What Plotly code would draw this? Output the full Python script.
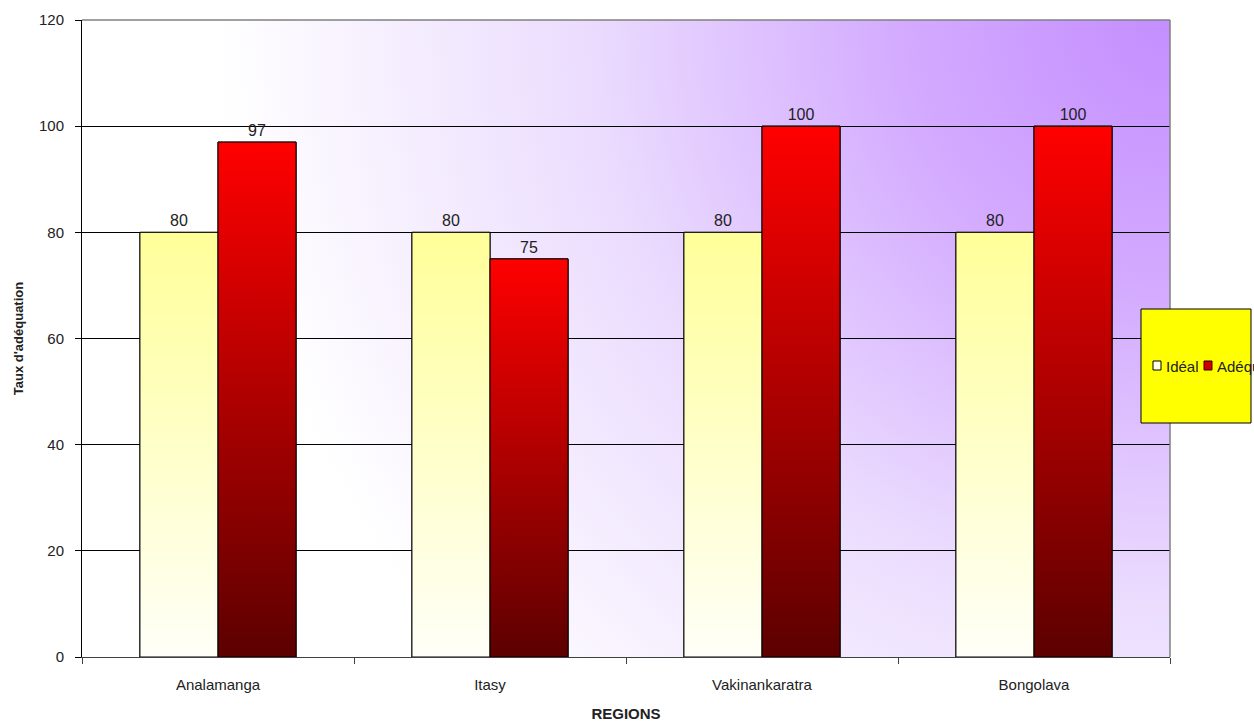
import base64
import plotly.graph_objects as go

# ---- data ----
regions = ["Analamanga", "Itasy", "Vakinankaratra", "Bongolava"]
ideal = [80, 80, 80, 80]
adequation = [97, 75, 100, 100]
series_names = ["Idéal", "Adéquation"]
y_ticks = [0, 20, 40, 60, 80, 100, 120]

W, H = 1254, 726
ML, MT = 82, 20
PW, PH = 1088, 637
MR, MB = W - ML - PW, H - MT - PH
BARGAP = 0.426
FONT = "Liberation Sans, Arial, sans-serif"


def px_x(sx):  # screen x -> paper fraction
    return (sx - ML) / PW


def px_y(sy):  # screen y -> paper fraction
    return (MT + PH - sy) / PH


# background radial gradient (from top-right corner)
svg = f'''<svg xmlns="http://www.w3.org/2000/svg" width="{PW}" height="{PH}" viewBox="0 0 {PW} {PH}" preserveAspectRatio="none">
<defs><radialGradient id="g" gradientUnits="userSpaceOnUse" cx="{PW}" cy="0" r="1060">
<stop offset="0" stop-color="#c48eff"/><stop offset="0.25" stop-color="#d3aaff"/>
<stop offset="0.55" stop-color="#ebdcfe"/><stop offset="0.9" stop-color="#ffffff"/>
<stop offset="1" stop-color="#ffffff"/>
</radialGradient></defs><rect width="{PW}" height="{PH}" fill="url(#g)"/></svg>'''
bg_src = "data:image/svg+xml;base64," + base64.b64encode(svg.encode()).decode()

fig = go.Figure()

# bar traces (data, labels)
fig.add_trace(go.Bar(
    x=regions, y=ideal, name=series_names[0], showlegend=False,
    marker=dict(color="#ffffe6", line=dict(color="black", width=1)),
    text=ideal, textposition="outside", cliponaxis=False,
    textfont=dict(family=FONT, size=16, color="#222222"),
))
fig.add_trace(go.Bar(
    x=regions, y=adequation, name=series_names[1], showlegend=False,
    marker=dict(color="#c00000", line=dict(color="black", width=1)),
    text=adequation, textposition="outside", cliponaxis=False,
    textfont=dict(family=FONT, size=16, color="#222222"),
))

# gradient fills drawn over each bar, derived from the same data
bw = (1 - BARGAP) / 2
scales = [
    [[0, "#fffff8"], [1, "#ffff99"]],
    [[0, "#5c0000"], [1, "#ff0000"]],
]
for j, vals in enumerate([ideal, adequation]):
    for i, v in enumerate(vals):
        left = i - bw + j * bw
        right = left + bw
        fig.add_trace(go.Scatter(
            x=[left, right, right, left, left], y=[0, 0, v, v, 0],
            xaxis="x2", yaxis="y", mode="lines", fill="toself",
            fillgradient=dict(type="vertical", colorscale=scales[j]),
            line=dict(color="black", width=1), showlegend=False, hoverinfo="skip",
        ))

# legend box (drawn as in the reference: yellow panel, small swatches, clipped label)
legend_swatches = [
    dict(x0=1153, x1=1161, fill="#ffffe8", line="black"),
    dict(x0=1204, x1=1212, fill="#cc0000", line="#330000"),
]
legend_text_x = [1164, 1215]
shapes = [
    dict(type="line", xref="paper", yref="paper", x0=0, x1=1, y0=1, y1=1,
         line=dict(color="#808080", width=1.5)),
    dict(type="line", xref="paper", yref="paper", x0=1, x1=1, y0=0, y1=1,
         line=dict(color="#808080", width=1.5)),
    dict(type="rect", xref="paper", yref="paper",
         x0=px_x(1141), x1=px_x(1251), y0=px_y(423), y1=px_y(309),
         fillcolor="#ffff00", line=dict(color="black", width=1), layer="above"),
]
for s in legend_swatches:
    shapes.append(dict(type="rect", xref="paper", yref="paper",
                       x0=px_x(s["x0"]), x1=px_x(s["x1"]), y0=px_y(370), y1=px_y(361),
                       fillcolor=s["fill"], line=dict(color=s["line"], width=1), layer="above"))
annotations = [
    dict(text=name, xref="paper", yref="paper", x=px_x(tx), y=px_y(366),
         xanchor="left", yanchor="middle", showarrow=False,
         font=dict(family=FONT, size=15, color="#222222"))
    for name, tx in zip(series_names, legend_text_x)
]

fig.update_layout(
    width=W, height=H,
    margin=dict(l=ML, r=MR, t=MT, b=MB, autoexpand=False),
    paper_bgcolor="white", plot_bgcolor="rgba(0,0,0,0)",
    barmode="group", bargap=BARGAP, bargroupgap=0,
    font=dict(family=FONT, color="#222222"),
    showlegend=False,
    xaxis=dict(
        type="category", tickson="boundaries", ticks="outside", ticklen=6,
        tickcolor="#404040", showline=True, linecolor="#404040", linewidth=1,
        showgrid=False, tickfont=dict(size=15, color="#222222"), ticklabelstandoff=14,
        title=dict(text="<b>REGIONS</b>", font=dict(size=15, color="#222222"), standoff=16),
    ),
    xaxis2=dict(overlaying="x", range=[-0.5, 3.5], visible=False),
    yaxis=dict(
        range=[0, 120], tickvals=y_ticks, ticks="outside", ticklen=6, tickcolor="black",
        showline=True, linecolor="black", linewidth=1, showgrid=True,
        gridcolor="black", gridwidth=1, zeroline=False,
        tickfont=dict(size=15, color="#222222"), ticklabelstandoff=8,
        title=dict(text="<b>Taux d'adéquation</b>", font=dict(size=13, color="#222222"), standoff=12),
    ),
    images=[dict(source=bg_src, xref="paper", yref="paper", x=0, y=1, sizex=1, sizey=1,
                 sizing="stretch", layer="below", xanchor="left", yanchor="top")],
    shapes=shapes,
    annotations=annotations,
)

fig.write_html(
    "out.html",
    config={"displayModeBar": False},
    post_script="document.body.style.margin='0';document.body.style.overflow='hidden';",
)
